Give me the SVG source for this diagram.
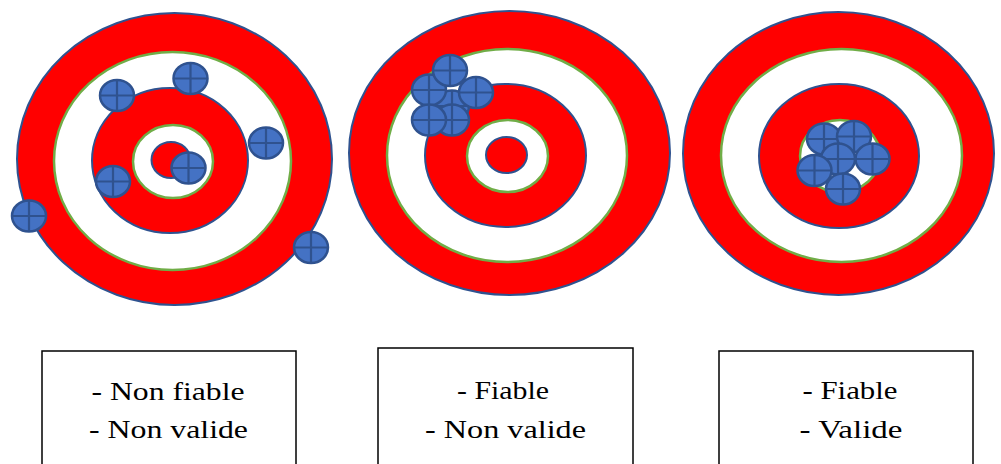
<svg xmlns="http://www.w3.org/2000/svg" xmlns:xlink="http://www.w3.org/1999/xlink" width="1001" height="464" viewBox="0 0 1001 464">
<style>
.rb{fill:#FF0000;stroke:#2F528F;stroke-width:2}
.wg{fill:#FFFFFF;stroke:#70AD47;stroke-width:2.5}
.box{fill:#FFFFFF;stroke:#000000;stroke-width:1.5}
.lbl{font-family:'Liberation Serif',serif;font-size:26px;fill:#000000;text-anchor:middle}
</style>
<defs>
<g id="bullet">
<ellipse cx="0" cy="0" rx="17" ry="15.5" fill="#4472C4" stroke="#2F528F" stroke-width="2.5"/>
<path d="M-17 0H17M0 -15.5V15.5" stroke="#2F528F" stroke-width="2.2" fill="none"/>
</g>
</defs>
<rect width="1001" height="464" fill="#FFFFFF"/>
<g id="target1">
<ellipse class="rb" cx="174.5" cy="159" rx="157.5" ry="146"/>
<ellipse class="wg" cx="172.5" cy="161" rx="118.5" ry="109"/>
<ellipse class="rb" cx="170" cy="160.5" rx="78" ry="72.5"/>
<ellipse class="wg" cx="173" cy="161.5" rx="40" ry="36.5"/>
<ellipse class="rb" cx="171" cy="160" rx="19.5" ry="18"/>
<use xlink:href="#bullet" x="117" y="95.5"/>
<use xlink:href="#bullet" x="190.5" y="78.5"/>
<use xlink:href="#bullet" x="266" y="143"/>
<use xlink:href="#bullet" x="188.5" y="168"/>
<use xlink:href="#bullet" x="113" y="181.5"/>
<use xlink:href="#bullet" x="29" y="216"/>
<use xlink:href="#bullet" x="311" y="247.5"/>
</g>
<g id="target2">
<ellipse class="rb" cx="509.5" cy="153" rx="160.5" ry="142"/>
<ellipse class="wg" cx="507" cy="155.5" rx="120" ry="106.5"/>
<ellipse class="rb" cx="505.5" cy="155.5" rx="80.5" ry="71.5"/>
<ellipse class="wg" cx="507.5" cy="156" rx="40.5" ry="36"/>
<ellipse class="rb" cx="506.5" cy="155" rx="20.5" ry="18"/>
<use xlink:href="#bullet" x="452" y="106"/>
<use xlink:href="#bullet" x="452" y="120"/>
<use xlink:href="#bullet" x="429" y="90"/>
<use xlink:href="#bullet" x="450" y="70.5"/>
<use xlink:href="#bullet" x="476" y="92.5"/>
<use xlink:href="#bullet" x="429" y="120"/>
</g>
<g id="target3">
<ellipse class="rb" cx="838.5" cy="153.5" rx="155.5" ry="141.5"/>
<ellipse class="wg" cx="841.5" cy="155.5" rx="120.5" ry="106.5"/>
<ellipse class="rb" cx="839" cy="156" rx="80" ry="72"/>
<ellipse class="wg" cx="840" cy="156" rx="40" ry="36"/>
<use xlink:href="#bullet" x="824" y="139"/>
<use xlink:href="#bullet" x="854" y="136.5"/>
<use xlink:href="#bullet" x="872.5" y="159"/>
<use xlink:href="#bullet" x="838" y="159"/>
<use xlink:href="#bullet" x="814.5" y="170.5"/>
<use xlink:href="#bullet" x="843" y="189"/>
</g>
<g id="box1">
<rect class="box" x="42" y="351" width="254" height="125"/>
<text class="lbl" x="168" y="400" textLength="153" lengthAdjust="spacingAndGlyphs">- Non fiable</text>
<text class="lbl" x="168.5" y="438" textLength="159" lengthAdjust="spacingAndGlyphs">- Non valide</text>
</g>
<g id="box2">
<rect class="box" x="378" y="348" width="255" height="128"/>
<text class="lbl" x="503" y="399" textLength="92" lengthAdjust="spacingAndGlyphs">- Fiable</text>
<text class="lbl" x="505.5" y="438" textLength="161" lengthAdjust="spacingAndGlyphs">- Non valide</text>
</g>
<g id="box3">
<rect class="box" x="719" y="351" width="254" height="125"/>
<text class="lbl" x="850" y="399" textLength="95" lengthAdjust="spacingAndGlyphs">- Fiable</text>
<text class="lbl" x="851" y="438" textLength="103" lengthAdjust="spacingAndGlyphs">- Valide</text>
</g>
<g id="connectors"/>
</svg>
